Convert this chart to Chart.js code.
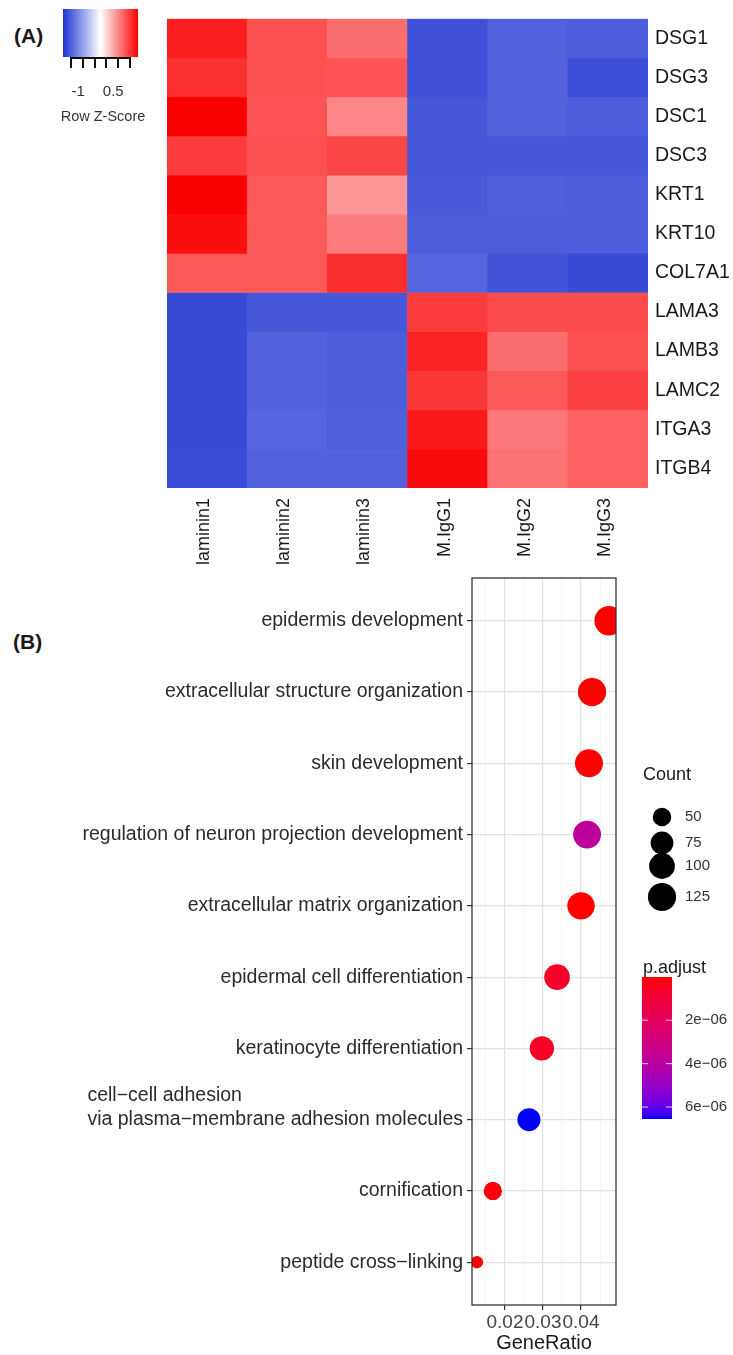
<!DOCTYPE html>
<html><head><meta charset="utf-8">
<script src="https://cdn.jsdelivr.net/npm/chart.js@4.4.1/dist/chart.umd.min.js"></script>
<style>
html,body{margin:0;padding:0;background:#fff;}
body{width:733px;height:1355px;position:relative;overflow:hidden;font-family:"Liberation Sans",Arial,sans-serif;}
#hm{position:absolute;left:0;top:0;}
#dp{position:absolute;left:0;top:560px;}
.lab{position:absolute;font-weight:bold;font-size:21px;color:#1a1a1a;line-height:24px;}
</style></head><body>
<div class="lab" style="left:14px;top:24px">(A)</div>
<div class="lab" style="left:13px;top:630px">(B)</div>
<canvas id="hm" width="733" height="580"></canvas>
<canvas id="dp" width="733" height="795"></canvas>
<script>
// ---------- DATA : heatmap ----------
const genes = ['DSG1','DSG3','DSC1','DSC3','KRT1','KRT10','COL7A1','LAMA3','LAMB3','LAMC2','ITGA3','ITGB4'];
const samples = ['laminin1','laminin2','laminin3','M.IgG1','M.IgG2','M.IgG3'];
const zScores = [
  [ 1.41, 1.10, 0.91,-1.37,-1.24,-1.28],
  [ 1.29, 1.10, 1.07,-1.37,-1.24,-1.39],
  [ 1.60, 1.07, 0.75,-1.32,-1.24,-1.28],
  [ 1.22, 1.10, 1.16,-1.32,-1.32,-1.32],
  [ 1.60, 1.04, 0.66,-1.30,-1.26,-1.28],
  [ 1.51, 1.04, 0.82,-1.28,-1.28,-1.28],
  [ 1.04, 1.04, 1.32,-1.21,-1.35,-1.42],
  [-1.42,-1.32,-1.32, 1.22, 1.13, 1.13],
  [-1.42,-1.24,-1.28, 1.38, 0.91, 1.10],
  [-1.42,-1.24,-1.28, 1.25, 1.04, 1.19],
  [-1.42,-1.21,-1.26, 1.44, 0.85, 1.00],
  [-1.40,-1.24,-1.24, 1.54, 0.88, 1.00]
];
const keyRange = [-1.6, 1.6];
const keyTicks = [-1.25,-0.75,-0.25,0.25,0.75,1.25];
const keyLabels = [-1, 0.5];

// ---------- DATA : GO dot plot ----------
const terms = ['epidermis development','extracellular structure organization','skin development',
  'regulation of neuron projection development','extracellular matrix organization',
  'epidermal cell differentiation','keratinocyte differentiation',
  'cell\u2212cell adhesion\nvia plasma\u2212membrane adhesion molecules','cornification','peptide cross\u2212linking'];
const geneRatio = [0.0474,0.0429,0.0421,0.0416,0.0400,0.0337,0.0297,0.0263,0.0168,0.0126];
const geneCount = [139,126,123,122,117,99,87,77,49,37];
const pAdjust = [1.2e-8,1.2e-8,2.5e-8,3.8e-6,1.5e-8,6.5e-7,5.5e-7,6.55e-6,1.0e-7,1.0e-8];
const ratioTicks = [0.02,0.03,0.04];
const ratioMinor = [0.015,0.025,0.035,0.045];
const countBreaks = [50,75,100,125];
const pBreaks = [2e-6,4e-6,6e-6];

Chart.defaults.font.family = '"Liberation Sans", Arial, Helvetica, sans-serif';
Chart.defaults.color = '#1a1a1a';

// ---------- colour helpers ----------
function zColor(z){
  if (z >= 0){ const t=Math.min(z/keyRange[1],1);
    return `rgb(${Math.round(255-5*t)},${Math.round(255*(1-t))},${Math.round(255*(1-t))})`; }
  const t=Math.min(z/keyRange[0],1);
  return `rgb(${Math.round(255-225*t)},${Math.round(255-203*t)},${Math.round(255-45*t)})`;
}
function s2l(c){c/=255;return c<=0.04045?c/12.92:Math.pow((c+0.055)/1.055,2.4);}
function l2s(c){c=Math.max(0,Math.min(1,c));return Math.round(255*(c<=0.0031308?12.92*c:1.055*Math.pow(c,1/2.4)-0.055));}
function rgb2lab(rgb){const R=s2l(rgb[0]),G=s2l(rgb[1]),B=s2l(rgb[2]);
  const X=(0.4124*R+0.3576*G+0.1805*B)/0.95047,Y=0.2126*R+0.7152*G+0.0722*B,Z=(0.0193*R+0.1192*G+0.9505*B)/1.08883;
  const f=t=>t>0.008856?Math.cbrt(t):7.787*t+16/116;const fx=f(X),fy=f(Y),fz=f(Z);
  return [116*fy-16,500*(fx-fy),200*(fy-fz)];}
function lab2rgb(lab){const fy=(lab[0]+16)/116,fx=fy+lab[1]/500,fz=fy-lab[2]/200;
  const fi=t=>t*t*t>0.008856?t*t*t:(t-16/116)/7.787;
  const X=fi(fx)*0.95047,Y=fi(fy),Z=fi(fz)*1.08883;
  return [l2s(3.2406*X-1.5372*Y-0.4986*Z),l2s(-0.9689*X+1.8758*Y+0.0415*Z),l2s(0.0557*X-0.2040*Y+1.0570*Z)];}
const labLow=rgb2lab([255,0,0]), labHigh=rgb2lab([0,0,255]);
const pMin=Math.min(...pAdjust), pMax=Math.max(...pAdjust);
function pColor(p){const t=Math.max(0,Math.min(1,(p-pMin)/(pMax-pMin)));
  const c=lab2rgb(labLow.map((v,i)=>v+(labHigh[i]-v)*t));return `rgb(${c[0]},${c[1]},${c[2]})`;}

// ---------- heatmap ----------
const keyPlugin={id:'zkey',afterDraw(chart){
  const c=chart.ctx,x0=63,x1=138,y0=9,y1=57;
  const xOf=z=>x0+(z-keyRange[0])/(keyRange[1]-keyRange[0])*(x1-x0);
  const g=c.createLinearGradient(x0,0,x1,0);
  for(let k=0;k<=60;k++){g.addColorStop(k/60,zColor(keyRange[0]+k/60*(keyRange[1]-keyRange[0])));}
  c.save();c.fillStyle=g;c.fillRect(x0,y0,x1-x0,y1-y0);
  c.strokeStyle='#111';c.lineWidth=2;c.beginPath();
  c.moveTo(xOf(keyTicks[0])-1,y1+1);c.lineTo(xOf(keyTicks[keyTicks.length-1])+1,y1+1);
  keyTicks.forEach(t=>{c.moveTo(Math.round(xOf(t)),y1);c.lineTo(Math.round(xOf(t)),y1+11);});
  c.stroke();
  c.fillStyle='#333';c.font='15px "Liberation Sans", Arial, sans-serif';c.textAlign='center';c.textBaseline='middle';
  keyLabels.forEach(v=>c.fillText(String(v),xOf(v)+1,92));
  c.font='14.5px "Liberation Sans", Arial, sans-serif';
  c.fillText('Row Z-Score',103,117);
  c.restore();
}};
new Chart(document.getElementById('hm'),{
  type:'bar',
  data:{labels:samples,datasets:genes.map((g,i)=>({label:g,data:samples.map(()=>[i,i+1]),
    backgroundColor:zScores[i].map(zColor),borderWidth:0,grouped:false,barPercentage:1,categoryPercentage:1}))},
  options:{responsive:false,animation:false,events:[],devicePixelRatio:1,
    layout:{padding:{left:167,top:17,right:0,bottom:0}},
    plugins:{legend:{display:false},tooltip:{enabled:false}},
    scales:{
      x:{type:'category',grid:{display:false,drawTicks:false},border:{display:false},
        ticks:{minRotation:90,maxRotation:90,autoSkip:false,font:{size:18},color:'#1a1a1a',padding:10,labelOffset:-3},
        afterFit(s){s.height=92;}},
      y:{type:'linear',position:'right',min:0,max:12,reverse:true,grid:{display:false,drawTicks:false},border:{display:false},
        afterBuildTicks(s){s.ticks=genes.map((g,i)=>({value:i+0.5}));},
        ticks:{autoSkip:false,font:{size:19.5},color:'#1a1a1a',padding:7,callback:v=>genes[Math.floor(v)]},
        afterFit(s){s.width=85;}}
    }},
  plugins:[keyPlugin]
});

// ---------- dot plot ----------
const nT=terms.length;
const cMin=Math.min(...geneCount),cMax=Math.max(...geneCount);
const rMin=6.2,rMax=14.7;
const sizeOf=c=>rMin+(rMax-rMin)*Math.sqrt(Math.max(0,c-cMin)/(cMax-cMin));
const isMajor=v=>ratioTicks.some(t=>Math.abs(t-v)<1e-9);
const OFF=560;
const dotPlugin={id:'dotdeco',afterDraw(chart){
  const c=chart.ctx,ca=chart.chartArea,ys=chart.scales.y;
  c.save();
  c.strokeStyle='#333';c.lineWidth=1.3;c.strokeRect(ca.left,ca.top,ca.right-ca.left,ca.bottom-ca.top);
  // category labels
  c.fillStyle='#2b2b2b';c.font='19.5px "Liberation Sans", Arial, sans-serif';c.textBaseline='middle';
  terms.forEach((t,i)=>{const y=ys.getPixelForValue(nT-i);const lines=t.split('\n');
    if(lines.length===1){c.textAlign='right';c.fillText(t,463,y);}
    else{const w=Math.max(...lines.map(l=>c.measureText(l).width));c.textAlign='left';
      lines.forEach((l,k)=>c.fillText(l,463-w,y-(lines.length-1-k)*24));}
  });
  // Count legend
  c.textAlign='left';c.fillStyle='#1a1a1a';c.font='18px "Liberation Sans", Arial, sans-serif';
  c.fillText('Count',643,775-OFF);
  const ky=[817,843,866,897];
  c.font='15px "Liberation Sans", Arial, sans-serif';
  countBreaks.forEach((b,k)=>{c.fillStyle='#000';c.beginPath();c.arc(662,ky[k]-OFF,sizeOf(b),0,Math.PI*2);c.fill();
    c.fillStyle='#333';c.fillText(String(b),685,ky[k]-OFF);});
  // p.adjust legend
  c.fillStyle='#1a1a1a';c.font='18px "Liberation Sans", Arial, sans-serif';
  c.fillText('p.adjust',643,968-OFF);
  const bx0=642,bx1=672,by0=977-OFF,by1=1119-OFF;
  const g=c.createLinearGradient(0,by0,0,by1);
  for(let k=0;k<=40;k++){g.addColorStop(k/40,pColor(pMin+k/40*(pMax-pMin)));}
  c.fillStyle=g;c.fillRect(bx0,by0,bx1-bx0,by1-by0);
  c.font='15px "Liberation Sans", Arial, sans-serif';
  pBreaks.forEach(p=>{const y=by0+(p-pMin)/(pMax-pMin)*(by1-by0);
    c.strokeStyle='rgba(255,255,255,0.8)';c.lineWidth=1;c.beginPath();
    c.moveTo(bx0,y);c.lineTo(bx0+6,y);c.moveTo(bx1-6,y);c.lineTo(bx1,y);c.stroke();
    c.fillStyle='#333';c.fillText(p.toExponential(0).replace('e-','e\u22120'),685,y);});
  c.restore();
}};
new Chart(document.getElementById('dp'),{
  type:'bubble',
  data:{datasets:[{data:terms.map((t,i)=>({x:geneRatio[i],y:nT-i,r:sizeOf(geneCount[i])})),
    backgroundColor:pAdjust.map(pColor),borderWidth:0,hoverRadius:0,clip:0}]},
  options:{responsive:false,animation:false,events:[],devicePixelRatio:1,
    layout:{padding:{left:464,right:117,top:18,bottom:0}},
    plugins:{legend:{display:false},tooltip:{enabled:false}},
    scales:{
      x:{type:'linear',min:0.01132,max:0.04921,
        afterBuildTicks(s){s.ticks=[...ratioMinor,...ratioTicks].sort((a,b)=>a-b).map(v=>({value:v}));},
        ticks:{autoSkip:false,maxRotation:0,font:{size:19},color:'#444',padding:1,callback:v=>isMajor(v)?v.toFixed(2):''},
        grid:{color:ctx=>isMajor(ctx.tick.value)?'#e3e3e3':'#f0f0f0',lineWidth:ctx=>isMajor(ctx.tick.value)?1.2:0.7,
          tickColor:ctx=>isMajor(ctx.tick.value)?'#333':'rgba(0,0,0,0)',tickLength:5,drawTicks:true},
        border:{display:false},
        title:{display:true,text:'GeneRatio',font:{size:20},color:'#1a1a1a',padding:0},
        afterFit(s){s.height=50;}},
      y:{type:'linear',min:0.4,max:10.6,
        afterBuildTicks(s){s.ticks=terms.map((t,i)=>({value:nT-i}));},
        ticks:{display:false},grid:{color:'#e3e3e3',lineWidth:1.2,tickColor:'#333',tickLength:5},
        border:{display:false},afterFit(s){s.width=8;}}
    }},
  plugins:[dotPlugin]
});
</script>
</body></html>
